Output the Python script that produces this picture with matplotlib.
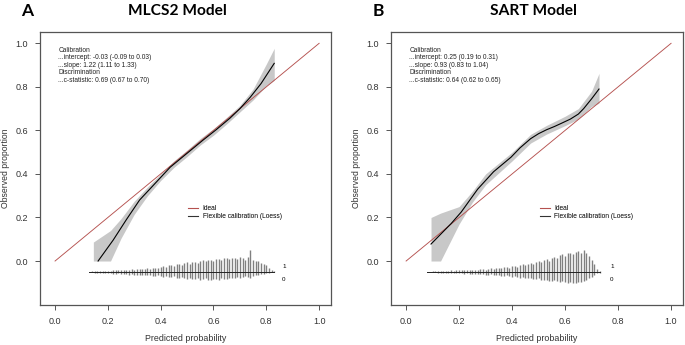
import numpy as np
import matplotlib
matplotlib.use("Agg")
import matplotlib.pyplot as plt
from matplotlib.lines import Line2D

plt.rcParams["font.family"] = ["Liberation Sans", "DejaVu Sans"]

# ---- panel A: MLCS2 ----
a_curve_x = [0.163, 0.22, 0.27, 0.32, 0.37, 0.436, 0.50, 0.56, 0.61, 0.663, 0.70, 0.739, 0.78, 0.83]
a_curve_y = [0.0, 0.096, 0.19, 0.28, 0.345, 0.431, 0.495, 0.555, 0.603, 0.657, 0.70, 0.752, 0.815, 0.908]
a_band_x = [0.145, 0.21, 0.25, 0.30, 0.35, 0.40, 0.45, 0.50, 0.55, 0.60, 0.65, 0.70, 0.75, 0.80, 0.83]
a_band_lo = [0.0, 0.0, 0.105, 0.215, 0.30, 0.37, 0.43, 0.48, 0.533, 0.578, 0.63, 0.685, 0.74, 0.805, 0.83]
a_band_hi = [0.087, 0.14, 0.195, 0.275, 0.34, 0.40, 0.46, 0.51, 0.563, 0.608, 0.66, 0.715, 0.79, 0.905, 0.977]
a_hist_start = 0.13
a_ones = [0.01, 0.02, 0.02, 0.03, 0.04, 0.03, 0.05, 0.06, 0.05, 0.07,
          0.08, 0.07, 0.09, 0.10, 0.09, 0.11, 0.12, 0.11, 0.13, 0.14,
          0.12, 0.15, 0.16, 0.14, 0.18, 0.20, 0.17, 0.22, 0.25, 0.21,
          0.30, 0.33, 0.27, 0.38, 0.36, 0.30, 0.42, 0.44, 0.38, 0.47,
          0.45, 0.40, 0.50, 0.53, 0.48, 0.55, 0.54, 0.50, 0.58, 0.60,
          0.55, 0.63, 0.66, 0.58, 0.62, 0.66, 0.60, 0.68, 0.63, 0.55,
          0.70, 1.00, 0.55, 0.50, 0.48, 0.42, 0.38, 0.30, 0.18, 0.10, 0.03]
a_zeros = [0.01, 0.02, 0.03, 0.03, 0.05, 0.04, 0.06, 0.07,
           0.06, 0.08, 0.09, 0.07, 0.10, 0.11, 0.09, 0.12, 0.11, 0.13,
           0.12, 0.14, 0.13, 0.15, 0.16, 0.14, 0.17, 0.19, 0.16, 0.20,
           0.22, 0.18, 0.24, 0.25, 0.21, 0.27, 0.28, 0.24, 0.30, 0.31,
           0.27, 0.32, 0.33, 0.29, 0.35, 0.34, 0.30, 0.36, 0.35, 0.31,
           0.34, 0.35, 0.30, 0.33, 0.32, 0.28, 0.30, 0.29, 0.25, 0.27,
           0.24, 0.20, 0.22, 0.30, 0.17, 0.15, 0.13, 0.11, 0.09, 0.06,
           0.04, 0.02, 0.01]
a_stats = ["Calibration",
           "...intercept: -0.03 (-0.09 to 0.03)",
           "...slope: 1.22 (1.11 to 1.33)",
           "Discrimination",
           "...c-statistic: 0.69 (0.67 to 0.70)"]

# ---- panel B: SART ----
b_curve_x = [0.094, 0.132, 0.17, 0.208, 0.27, 0.33, 0.396, 0.43, 0.47, 0.50, 0.53, 0.56,
             0.585, 0.62, 0.65, 0.67, 0.70, 0.728]
b_curve_y = [0.078, 0.125, 0.172, 0.225, 0.33, 0.41, 0.477, 0.52, 0.562, 0.585, 0.603, 0.618,
             0.632, 0.652, 0.675, 0.70, 0.745, 0.79]
b_band_x = [0.094, 0.13, 0.20, 0.25, 0.30, 0.40, 0.47, 0.53, 0.60, 0.65, 0.70, 0.728]
b_band_lo = [0.0, 0.0, 0.17, 0.27, 0.35, 0.46, 0.542, 0.583, 0.622, 0.652, 0.71, 0.725]
b_band_hi = [0.20, 0.22, 0.25, 0.32, 0.40, 0.50, 0.582, 0.623, 0.665, 0.70, 0.78, 0.862]
b_hist_start = 0.08
b_ones = [0.01, 0.01, 0.02, 0.03, 0.02, 0.04, 0.05, 0.04, 0.06, 0.07,
          0.05, 0.08, 0.09, 0.07, 0.09, 0.10, 0.08, 0.10, 0.11, 0.09,
          0.12, 0.13, 0.11, 0.14, 0.16, 0.13, 0.18, 0.20, 0.17, 0.22,
          0.24, 0.19, 0.27, 0.29, 0.24, 0.32, 0.35, 0.30, 0.38, 0.42,
          0.36, 0.47, 0.50, 0.44, 0.55, 0.60, 0.52, 0.66, 0.70, 0.62,
          0.76, 0.80, 0.72, 0.86, 0.88, 0.80, 0.92, 0.95, 0.85, 1.00,
          0.88, 0.75, 0.55, 0.35, 0.15, 0.05]
b_zeros = [0.01, 0.01, 0.02, 0.02, 0.03, 0.03, 0.04, 0.03, 0.05, 0.05,
           0.06, 0.05, 0.07, 0.06, 0.08, 0.07, 0.09, 0.08, 0.10, 0.09,
           0.11, 0.10, 0.12, 0.13, 0.11, 0.14, 0.15, 0.13, 0.17, 0.18,
           0.16, 0.20, 0.22, 0.19, 0.24, 0.26, 0.23, 0.28, 0.30, 0.27,
           0.32, 0.34, 0.30, 0.36, 0.38, 0.35, 0.40, 0.42, 0.38, 0.44,
           0.46, 0.42, 0.48, 0.50, 0.46, 0.52, 0.50, 0.47, 0.48, 0.44,
           0.38, 0.30, 0.22, 0.14, 0.07, 0.03]
b_stats = ["Calibration",
           "...intercept: 0.25 (0.19 to 0.31)",
           "...slope: 0.93 (0.83 to 1.04)",
           "Discrimination",
           "...c-statistic: 0.64 (0.62 to 0.65)"]

ticks = [0.0, 0.2, 0.4, 0.6, 0.8, 1.0]
IDEAL = "#b5514f"
BAND = "#c8c8c8"
SPINE = "#555555"


def panel(ax, cx, cy, bx, blo, bhi, hstart, ones, zeros, stats, lab_x):
    ax.plot(ticks, ticks, color=IDEAL, lw=0.65)
    ax.fill_between(bx, blo, bhi, color=BAND, lw=0)
    ax.plot(cx, cy, color="black", lw=0.8)

    # spike histogram of predictions, 1s up and 0s down
    base = -0.05
    xs = hstart + 0.01 * np.arange(len(ones))
    ax.vlines(xs, base, base + 0.1 * np.array(ones), color="#808080", lw=1.0)
    ax.vlines(xs, base, base - 0.1 * np.array(zeros), color="#808080", lw=1.0)
    ax.plot([xs[0], xs[-1]], [base, base], color="#222222", lw=0.7)
    ax.text(lab_x, -0.027, "1", fontsize=4.5, va="center")
    ax.text(lab_x, -0.087, "0", fontsize=4.5, va="center")

    ax.text(0.012, 0.985, "\n".join(stats), fontsize=4.8, va="top",
            ha="left", linespacing=1.1, color="#222222")

    handles = [Line2D([], [], color=IDEAL, lw=0.8),
               Line2D([], [], color="#333333", lw=0.8)]
    ax.legend(handles, ["Ideal", "Flexible calibration (Loess)"],
              loc="upper left", bbox_to_anchor=(0.509, 0.365), frameon=False,
              fontsize=4.8, handlelength=1.5, handletextpad=0.7,
              labelspacing=0.1, borderpad=0, borderaxespad=0)

    ax.set_xlim(-0.057, 1.045)
    ax.set_ylim(-0.202, 1.052)
    ax.set_xticks(ticks)
    ax.set_yticks(ticks)
    ax.set_xticklabels([f"{t:.1f}" for t in ticks])
    ax.set_yticklabels([f"{t:.1f}" for t in ticks])
    ax.tick_params(labelsize=6.5, length=3.5, width=0.7, color=SPINE,
                   labelcolor="#333333", pad=5)
    for s in ax.spines.values():
        s.set_color(SPINE)
        s.set_linewidth(0.9)
    ax.set_xlabel("Predicted probability", fontsize=6.4, color="#333333", labelpad=6)
    ax.set_ylabel("Observed proportion", fontsize=6.2, color="#333333", labelpad=4)


fig = plt.figure(figsize=(6.85, 3.45), dpi=100)
ax1 = fig.add_axes([40 / 685, 40 / 345, 291 / 685, 273 / 345])
ax2 = fig.add_axes([391 / 685, 40 / 345, 292 / 685, 273 / 345])

panel(ax1, a_curve_x, a_curve_y, a_band_x, a_band_lo, a_band_hi,
      a_hist_start, a_ones, a_zeros, a_stats, 0.86)
panel(ax2, b_curve_x, b_curve_y, b_band_x, b_band_lo, b_band_hi,
      b_hist_start, b_ones, b_zeros, b_stats, 0.77)

fig.text(27 / 685, 1 - 11 / 345, "A", fontsize=12.5, fontweight="bold",
         family="Lato", ha="center", va="center")
fig.text(177 / 685, 1 - 11 / 345, "MLCS2 Model", fontsize=11.2, fontweight="bold",
         family="Lato", ha="center", va="center")
fig.text(378 / 685, 1 - 11 / 345, "B", fontsize=12.5, fontweight="bold",
         family="Lato", ha="center", va="center")
fig.text(533 / 685, 1 - 11 / 345, "SART Model", fontsize=11.2, fontweight="bold",
         family="Lato", ha="center", va="center")

fig.savefig("out.png", dpi=100)
